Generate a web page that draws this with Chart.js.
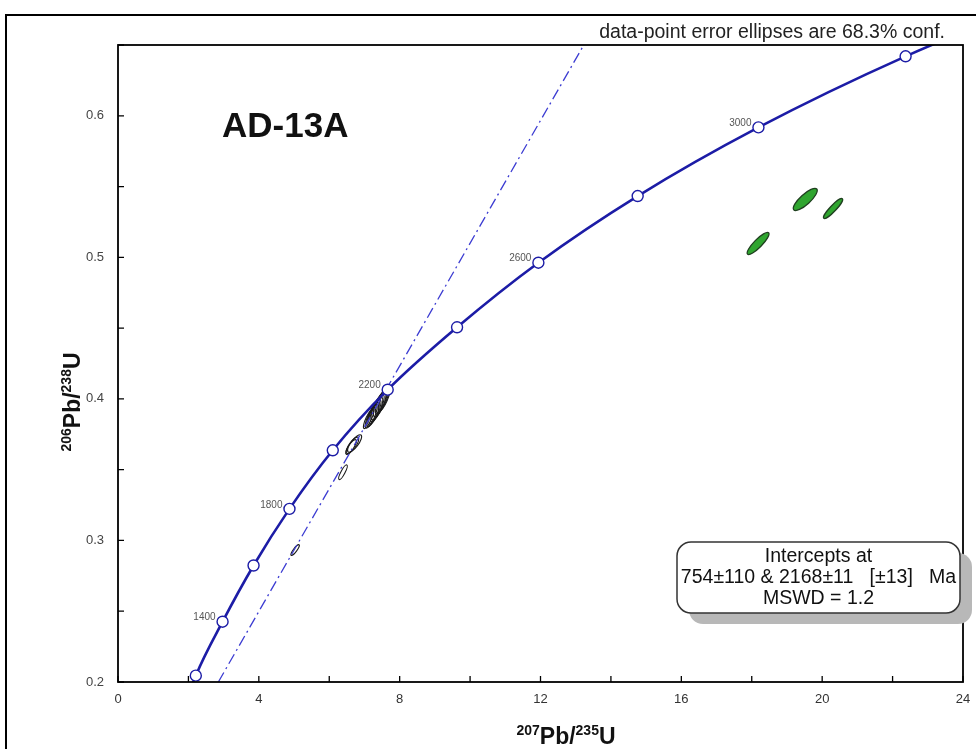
<!DOCTYPE html>
<html>
<head>
<meta charset="utf-8">
<script src="https://cdn.jsdelivr.net/npm/chart.js@4.4.1/dist/chart.umd.min.js"></script>
<style>
  html, body { margin: 0; padding: 0; background: #ffffff; }
  #wrap { width: 976px; height: 749px; position: relative; }
</style>
</head>
<body>
<div id="wrap"><canvas id="c" width="976" height="749"></canvas></div>
<script>
// ---------------- data ----------------
const concordiaAge = [1000, 1200, 1400, 1600, 1800, 2000, 2200, 2400, 2600, 2800, 3000, 3200, 3400];
const concordiaX   = [1.68, 2.21, 2.97, 3.85, 4.87, 6.10, 7.66, 9.63, 11.94, 14.76, 18.19, 22.37, 27.47];
const concordiaY   = [0.168, 0.2045, 0.2426, 0.2823, 0.3223, 0.3637, 0.4065, 0.4506, 0.4962, 0.5433, 0.5918, 0.6420, 0.694];
const markerAges   = [1200, 1400, 1600, 1800, 2000, 2200, 2400, 2600, 2800, 3000, 3200];
const labelledAges = [1400, 1800, 2200, 2600, 3000];

const discordiaX = [2.85, 13.23];
const discordiaY = [0.20, 0.65];

const blackEllipseX   = [7.56, 7.50, 7.45, 7.40, 7.36, 7.32, 7.28, 7.24, 7.19, 7.12, 6.72, 6.66, 6.62, 6.39, 5.03];
const blackEllipseY   = [0.3998, 0.3985, 0.397, 0.395, 0.3935, 0.392, 0.3905, 0.389, 0.3875, 0.386, 0.3685, 0.3672, 0.366, 0.3482, 0.2932];
const blackEllipseSX  = [0.17, 0.19, 0.2, 0.21, 0.2, 0.2, 0.19, 0.18, 0.17, 0.15, 0.2, 0.18, 0.15, 0.12, 0.12];
const blackEllipseSY  = [0.0085, 0.009, 0.0095, 0.0098, 0.0095, 0.0093, 0.009, 0.0086, 0.0082, 0.007, 0.0062, 0.0058, 0.0052, 0.0052, 0.0038];
const blackEllipseRho = [0.8, 0.78, 0.8, 0.78, 0.8, 0.78, 0.8, 0.78, 0.8, 0.82, 0.78, 0.78, 0.8, 0.85, 0.86];

const greenEllipseX   = [19.52, 20.31, 18.18];
const greenEllipseY   = [0.5409, 0.5345, 0.5098];
const greenEllipseSX  = [0.34, 0.27, 0.31];
const greenEllipseSY  = [0.0078, 0.0071, 0.0078];
const greenEllipseRho = [0.81, 0.905, 0.867];

const xTickLabels = [0, 4, 8, 12, 16, 20, 24];
const yTickLabels = [0.2, 0.3, 0.4, 0.5, 0.6];

const sampleName = 'AD-13A';
const confText = 'data-point error ellipses are 68.3% conf.';
const interceptLines = ['Intercepts at', '754\u00b1110 & 2168\u00b111   [\u00b113]   Ma', 'MSWD = 1.2'];

// ---------------- build datasets ----------------
const concordiaPts = concordiaX.map((x, i) => ({ x: x, y: concordiaY[i], age: concordiaAge[i] }));
const discordiaPts = discordiaX.map((x, i) => ({ x: x, y: discordiaY[i] }));

const NAVY = '#1c1ca6';
const DASHBLUE = '#3c3cd2';

function drawEllipse(ctx, xs, ys, cx, cy, sx, sy, rho) {
  const px = xs.getPixelForValue(cx), py = ys.getPixelForValue(cy);
  const Ax = Math.abs(xs.getPixelForValue(cx + sx) - px);
  const Ay = Math.abs(ys.getPixelForValue(cy + sy) - py);
  const r = -rho; // screen y is flipped
  const tr = Ax * Ax + Ay * Ay;
  const det = Ax * Ax * Ay * Ay * (1 - r * r);
  const d = Math.sqrt(Math.max(tr * tr / 4 - det, 0));
  const l1 = tr / 2 + d, l2 = Math.max(tr / 2 - d, 0.5);
  const th = 0.5 * Math.atan2(2 * r * Ax * Ay, Ax * Ax - Ay * Ay);
  ctx.beginPath();
  ctx.ellipse(px, py, Math.sqrt(l1), Math.sqrt(l2), th, 0, Math.PI * 2);
}

const decorPlugin = {
  id: 'decor',
  beforeDraw(chart) {
    const ctx = chart.ctx;
    ctx.save();
    ctx.fillStyle = '#ffffff';
    ctx.fillRect(0, 0, chart.width, chart.height);
    ctx.strokeStyle = '#000';
    ctx.lineWidth = 2;
    ctx.beginPath();
    ctx.moveTo(6, chart.height + 2);
    ctx.lineTo(6, 15);
    ctx.lineTo(chart.width + 2, 15);
    ctx.stroke();
    ctx.restore();
  },
  beforeDatasetsDraw(chart) {
    const ctx = chart.ctx;
    const xs = chart.scales.x, ys = chart.scales.y;
    const a = chart.chartArea;
    ctx.save();
    ctx.beginPath();
    ctx.rect(a.left, a.top, a.right - a.left, a.bottom - a.top);
    ctx.clip();
    for (let i = 0; i < greenEllipseX.length; i++) {
      drawEllipse(ctx, xs, ys, greenEllipseX[i], greenEllipseY[i], greenEllipseSX[i], greenEllipseSY[i], greenEllipseRho[i]);
      ctx.fillStyle = '#2fa52f';
      ctx.fill();
      ctx.lineWidth = 1.3;
      ctx.strokeStyle = '#1f3f1f';
      ctx.stroke();
    }
    for (let i = 0; i < blackEllipseX.length; i++) {
      drawEllipse(ctx, xs, ys, blackEllipseX[i], blackEllipseY[i], blackEllipseSX[i], blackEllipseSY[i], blackEllipseRho[i]);
      ctx.lineWidth = 1.1;
      ctx.strokeStyle = '#1a1a1a';
      ctx.stroke();
    }
    ctx.restore();
  },
  afterDatasetsDraw(chart) {
    const ctx = chart.ctx;
    const xs = chart.scales.x, ys = chart.scales.y;
    const a = chart.chartArea;
    ctx.save();
    ctx.strokeStyle = '#000';
    ctx.lineWidth = 1.8;
    ctx.strokeRect(a.left, a.top, a.right - a.left, a.bottom - a.top);
    ctx.lineWidth = 1.3;
    ctx.beginPath();
    xs.ticks.forEach(t => {
      const p = xs.getPixelForValue(t.value);
      ctx.moveTo(p, a.bottom); ctx.lineTo(p, a.bottom - 6);
    });
    ys.ticks.forEach(t => {
      const p = ys.getPixelForValue(t.value);
      ctx.moveTo(a.left, p); ctx.lineTo(a.left + 6, p);
    });
    ctx.stroke();

    ctx.font = '10px "Liberation Sans", Arial, sans-serif';
    ctx.fillStyle = '#555';
    ctx.textAlign = 'right';
    ctx.textBaseline = 'middle';
    concordiaPts.forEach(p => {
      if (labelledAges.indexOf(p.age) >= 0) {
        ctx.fillText(String(p.age), xs.getPixelForValue(p.x) - 7, ys.getPixelForValue(p.y) - 4);
      }
    });

    ctx.font = 'bold 35px "Liberation Sans", Arial, sans-serif';
    ctx.fillStyle = '#111';
    ctx.textAlign = 'left';
    ctx.textBaseline = 'alphabetic';
    ctx.fillText(sampleName, a.left + 104, a.top + 92);

    ctx.font = '19.5px "Liberation Sans", Arial, sans-serif';
    ctx.fillStyle = '#222';
    ctx.textAlign = 'right';
    ctx.fillText(confText, a.right - 18, a.top - 7);

    const bx = 677, by = 542, bw = 283, bh = 71, rr = 14;
    ctx.fillStyle = '#b8b8b8';
    ctx.beginPath();
    ctx.roundRect(bx + 12, by + 11, bw, bh, rr);
    ctx.fill();
    ctx.fillStyle = '#fff';
    ctx.strokeStyle = '#333';
    ctx.lineWidth = 1.5;
    ctx.beginPath();
    ctx.roundRect(bx, by, bw, bh, rr);
    ctx.fill();
    ctx.stroke();
    ctx.fillStyle = '#111';
    ctx.font = '19.5px "Liberation Sans", Arial, sans-serif';
    ctx.textAlign = 'center';
    ctx.textBaseline = 'middle';
    interceptLines.forEach((s, i) => ctx.fillText(s, bx + bw / 2, by + 15 + i * 21));

    function richTitle(parts, cx, cy, rotate) {
      ctx.save();
      ctx.translate(cx, cy);
      if (rotate) ctx.rotate(-Math.PI / 2);
      ctx.textBaseline = 'alphabetic';
      ctx.textAlign = 'left';
      let w = 0;
      parts.forEach(p => { ctx.font = p.font; w += ctx.measureText(p.t).width; });
      let x = -w / 2;
      parts.forEach(p => {
        ctx.font = p.font;
        ctx.fillText(p.t, x, p.dy);
        x += ctx.measureText(p.t).width;
      });
      ctx.restore();
    }
    ctx.fillStyle = '#111';
    const big = 'bold 23px "Liberation Sans", Arial, sans-serif';
    const sup = 'bold 14px "Liberation Sans", Arial, sans-serif';
    richTitle([{t:'207',font:sup,dy:-9},{t:'Pb/',font:big,dy:0},{t:'235',font:sup,dy:-9},{t:'U',font:big,dy:0}], 566, 744, false);
    richTitle([{t:'206',font:sup,dy:-9},{t:'Pb/',font:big,dy:0},{t:'238',font:sup,dy:-9},{t:'U',font:big,dy:0}], 80, 402, true);
    ctx.restore();
  }
};

const ctxEl = document.getElementById('c');
new Chart(ctxEl, {
  type: 'scatter',
  data: {
    datasets: [
      {
        label: 'Discordia',
        type: 'line',
        data: discordiaPts,
        borderColor: DASHBLUE,
        borderWidth: 1.3,
        borderDash: [11, 4, 2, 4],
        pointRadius: 0,
        fill: false,
        order: 2
      },
      {
        label: 'Concordia',
        type: 'line',
        data: concordiaPts,
        borderColor: NAVY,
        borderWidth: 2.6,
        cubicInterpolationMode: 'monotone',
        pointRadius: ctx => (markerAges.indexOf(concordiaAge[ctx.dataIndex]) >= 0 ? 5.5 : 0),
        pointBackgroundColor: '#ffffff',
        pointBorderColor: NAVY,
        pointBorderWidth: 1.4,
        fill: false,
        order: 1
      }
    ]
  },
  options: {
    responsive: false,
    animation: false,
    events: [],
    layout: { padding: { left: 0, top: 45, right: 13, bottom: 0 } },
    plugins: { legend: { display: false }, tooltip: { enabled: false }, title: { display: false } },
    scales: {
      x: {
        type: 'linear', min: 0, max: 24,
        grid: { display: false, drawTicks: false },
        border: { display: false },
        ticks: {
          stepSize: 2, padding: 10, color: '#333', maxRotation: 0, autoSkip: false,
          font: { family: '"Liberation Sans", Arial, sans-serif', size: 13 },
          callback: v => (xTickLabels.indexOf(v) >= 0 ? String(v) : '')
        },
        afterFit: s => { s.height = 67; s.paddingRight = 0; s.paddingLeft = 0; }
      },
      y: {
        type: 'linear', min: 0.2, max: 0.65,
        grid: { display: false, drawTicks: false },
        border: { display: false },
        ticks: {
          stepSize: 0.05, padding: 14, color: '#444', autoSkip: false,
          font: { family: '"Liberation Sans", Arial, sans-serif', size: 13 },
          callback: v => {
            const r = Math.round(v * 100) / 100;
            return yTickLabels.some(t => Math.abs(t - r) < 1e-9) ? r.toFixed(1) : '';
          }
        },
        afterFit: s => { s.width = 118; s.paddingTop = 0; s.paddingBottom = 0; }
      }
    }
  },
  plugins: [decorPlugin]
});
</script>
</body>
</html>
